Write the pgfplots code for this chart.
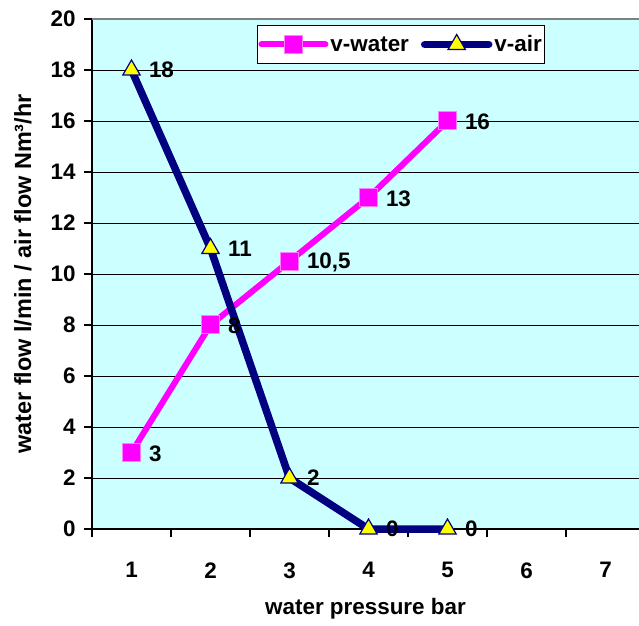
\documentclass[border=0pt]{standalone}
\usepackage{pgfplots}
\pgfplotsset{compat=1.18}
\usepackage{pgfplotstable}
\usepackage{fontspec}
\setmainfont{Liberation Sans}
\usetikzlibrary{calc}

\definecolor{bgcyan}{RGB}{204,255,255}
\definecolor{vwater}{RGB}{255,0,255}
\definecolor{vair}{RGB}{0,0,128}
\definecolor{mkyellow}{RGB}{255,255,0}

\newcommand{\chartfont}{\fontsize{22.5}{26}\selectfont\bfseries}

% water pressure (bar), flow, label
\pgfplotstableread{
x y lab
1 3 3
2 8 8
3 10.5 10,5
4 13 13
5 16 16
}\water
\pgfplotstableread{
x y lab
1 18 18
2 11 11
3 2 2
4 0 0
5 0 0
}\air

\begin{document}
\begin{tikzpicture}
    \begin{axis}[
        name=ax,
        scale only axis,
        width=547bp,
        height=510bp,
        xmin=0.5, xmax=7.424,
        ymin=0, ymax=20,
        clip=false,
        axis x line*=bottom,
        axis y line*=left,
        axis line style={line width=1.5bp},
        axis background/.style={fill=bgcyan},
        xtick={1,...,7},
        every major x tick/.append style={draw=none},
        minor xtick={0.5,1.5,...,6.5},
        ytick={0,2,...,20},
        tick align=outside,
        major tick length=8bp,
        minor tick length=8bp,
        tick style={line width=1.2bp, black},
        ymajorgrids,
        grid style={black, line width=0.8bp},
        /pgf/number format/assume math mode=true,
        ticklabel style={font=\chartfont},
        xticklabel style={yshift=-22bp},
        yticklabel style={xshift=-5bp},
        xlabel={water pressure bar},
        ylabel={water flow l/min / air flow Nm³/hr},
        xlabel style={font=\chartfont, yshift=-13bp},
        ylabel style={font=\fontsize{23.5}{26}\selectfont\bfseries, yshift=12bp},
        legend columns=2,
        legend style={
            at={(0.3016,0.988)}, anchor=north west,
            draw=black, line width=1bp, fill=white,
            font=\chartfont,
            inner xsep=1bp, inner ysep=8bp,
            /tikz/every even column/.append style={column sep=10bp}
        },
        legend cell align=left,
        legend image code/.code={%
            \draw[mark repeat=2,mark phase=2, line cap=round]
            plot coordinates {(0bp,0bp) (32bp,0bp) (64bp,0bp)};},
        nodes near coords,
        point meta=explicit symbolic,
        every node near coord/.append style={font=\chartfont, anchor=west, xshift=14bp, yshift=0bp},
    ]
    \addplot[color=vwater, line width=6bp, mark=square*, mark size=9bp,
        mark options={fill=vwater, draw=vwater!50, line width=1bp},
        nodes near coords={}]
        table[x=x, y=y, meta=lab] {\water};
    \addlegendentry{v-water}
    \addplot[color=vair, line width=7.5bp, mark=triangle*, mark size=10bp,
        mark options={fill=mkyellow, draw=vair, line width=1.2bp},
        nodes near coords={}]
        table[x=x, y=y, meta=lab] {\air};
    \addlegendentry{v-air}
    % data labels drawn above both lines
    \addplot[draw=none, forget plot, every node near coord/.append style={yshift=-1bp}]
        table[x=x, y=y, meta=lab] {\water};
    \addplot[draw=none, forget plot]
        table[x=x, y=y, meta=lab] {\air};
    \draw[gray, line width=1.5bp] (rel axis cs:0,1) -- (rel axis cs:1,1);
    \end{axis}
    \pgfresetboundingbox
    \path[use as bounding box] ($(ax.south west)+(-92bp,-97bp)$) rectangle ($(ax.south west)+(547bp,529bp)$);
\end{tikzpicture}
\end{document}
